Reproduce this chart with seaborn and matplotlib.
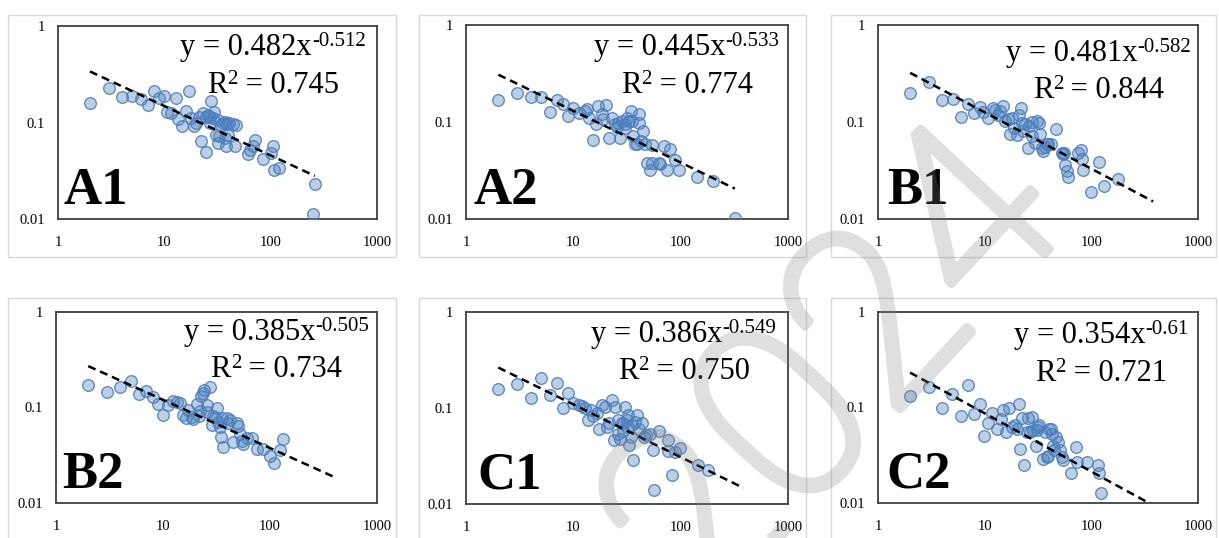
import numpy as np
import pandas as pd
import matplotlib
matplotlib.use("Agg")
import matplotlib.pyplot as plt
import matplotlib.patheffects as pe
import seaborn as sns
from matplotlib.patches import Rectangle
from matplotlib.transforms import IdentityTransform

# ---------------- data ----------------
panel_names = ["A1", "A2", "B1", "B2", "C1", "C2"]

a1_x = [2, 3, 4, 5, 6, 7, 8, 9, 10, 12.9, 16.9, 10.5, 11.6, 14.6, 16, 17.9, 18.9, 21.4, 21.9, 24.5,
        23, 24.7, 26.6, 27.5, 28.6, 29.6, 30.7, 31.8, 33, 34.2, 35.5, 36.8, 38.1, 39, 41, 44.1, 45.7,
        47.4, 37, 40, 61, 64, 68, 70.5, 84.5, 101, 106, 107, 119, 250, 259, 13.5, 20, 26, 32, 27]
a1_y = [0.161, 0.23, 0.183, 0.186, 0.176, 0.153, 0.213, 0.179, 0.19, 0.179, 0.214, 0.129, 0.125, 0.092,
        0.132, 0.111, 0.092, 0.115, 0.064, 0.050, 0.125, 0.115, 0.113, 0.169, 0.111, 0.130, 0.075, 0.061,
        0.072, 0.095, 0.098, 0.102, 0.057, 0.097, 0.100, 0.097, 0.057, 0.094, 0.069, 0.075, 0.047, 0.052,
        0.057, 0.066, 0.042, 0.048, 0.057, 0.032, 0.034, 0.0113, 0.023, 0.11, 0.10, 0.12, 0.105, 0.10]

a2_x = [2, 3, 4, 5, 6, 7, 8, 9, 10, 11.2, 12.9, 13.3, 14, 15.2, 16.2, 16.9, 18.4, 20.1, 19.1, 21.6,
        22.8, 24.2, 25.4, 27.3, 26.3, 28.3, 30, 31.5, 33.1, 34.1, 36.3, 37.6, 40.5, 41.3, 42.8, 44.1,
        46.7, 53.9, 48.4, 51.3, 53.9, 62.2, 64.4, 69.2, 74.3, 79.8, 87.7, 97.5, 143, 198, 318, 30.4,
        35.1, 39]
a2_y = [0.169, 0.198, 0.183, 0.183, 0.128, 0.168, 0.152, 0.114, 0.138, 0.125, 0.129, 0.135, 0.111,
        0.065, 0.096, 0.146, 0.120, 0.149, 0.107, 0.069, 0.109, 0.095, 0.089, 0.069, 0.098, 0.102,
        0.095, 0.109, 0.102, 0.130, 0.072, 0.059, 0.120, 0.098, 0.064, 0.081, 0.059, 0.058, 0.038,
        0.032, 0.038, 0.038, 0.0365, 0.057, 0.032, 0.053, 0.041, 0.032, 0.027, 0.0245, 0.0102, 0.087,
        0.102, 0.059]

b1_x = [2, 3, 4, 5, 6, 7, 8, 9, 9.7, 10.8, 11.9, 12.5, 13.3, 15, 15.5, 16.7, 17.4, 19, 20, 21, 21.9,
        22.5, 23.9, 23, 25.7, 27.6, 29.6, 30.7, 32.3, 33, 34.2, 35.5, 39.5, 41.8, 46.2, 52.6, 54.6,
        56.5, 59, 60.8, 75.4, 79.3, 81, 83.9, 98.3, 118.5, 132, 178, 14, 18, 26, 28, 37, 38, 55]
b1_y = [0.198, 0.259, 0.169, 0.172, 0.112, 0.155, 0.123, 0.143, 0.128, 0.111, 0.141, 0.133, 0.117,
        0.146, 0.102, 0.107, 0.076, 0.087, 0.073, 0.117, 0.141, 0.098, 0.095, 0.081, 0.054, 0.072,
        0.061, 0.102, 0.097, 0.075, 0.054, 0.050, 0.059, 0.059, 0.085, 0.048, 0.047, 0.036, 0.031,
        0.027, 0.048, 0.052, 0.042, 0.032, 0.019, 0.039, 0.022, 0.026, 0.13, 0.11, 0.09, 0.10, 0.055,
        0.06, 0.048]

b2_x = [2, 3, 4, 5, 6, 7, 8, 9, 10, 11.2, 12.5, 13.4, 14.4, 15.3, 16.3, 17.3, 18.5, 19.2, 20.6, 21.9,
        22.7, 23.5, 24.2, 25.6, 26, 27.5, 28.5, 29.5, 30.6, 31.7, 32.9, 34.6, 35.3, 36.6, 39.3, 42.2,
        45.4, 50.5, 52.4, 54.3, 56.3, 60.4, 67.3, 74.9, 86.4, 101, 109, 124, 133, 22.2, 34.1, 40.8,
        48.8]
b2_y = [0.170, 0.144, 0.165, 0.190, 0.138, 0.150, 0.129, 0.110, 0.083, 0.106, 0.117, 0.115, 0.112,
        0.083, 0.0785, 0.094, 0.080, 0.075, 0.108, 0.081, 0.131, 0.142, 0.152, 0.106, 0.090, 0.162,
        0.065, 0.081, 0.080, 0.098, 0.071, 0.049, 0.077, 0.0387, 0.077, 0.074, 0.044, 0.064, 0.0525,
        0.045, 0.041, 0.048, 0.048, 0.037, 0.037, 0.031, 0.026, 0.036, 0.047, 0.092, 0.063, 0.068,
        0.068]

c1_x = [2, 3, 4, 5, 6, 7, 8, 9, 10, 11.2, 12, 12.9, 13.8, 14.6, 15.4, 16.5, 17.5, 18.4, 19.8, 20.5,
        21.6, 22.8, 23.7, 24.6, 26.3, 27.3, 28.3, 29.3, 30.4, 31.5, 32.6, 33.1, 34.6, 36.3, 37.6, 39,
        40.5, 43.5, 47.4, 52, 55.8, 62.2, 57, 76, 77, 83, 87.7, 99, 145, 179, 26.3, 29.3, 32, 35, 45.8]
c1_y = [0.158, 0.178, 0.128, 0.204, 0.137, 0.181, 0.099, 0.142, 0.114, 0.107, 0.105, 0.099, 0.075,
        0.095, 0.083, 0.088, 0.061, 0.107, 0.103, 0.064, 0.069, 0.121, 0.046, 0.102, 0.075, 0.048,
        0.069, 0.069, 0.103, 0.075, 0.064, 0.041, 0.050, 0.029, 0.072, 0.085, 0.061, 0.069, 0.052,
        0.054, 0.0365, 0.057, 0.014, 0.046, 0.036, 0.020, 0.035, 0.038, 0.0255, 0.0226, 0.054, 0.057,
        0.085, 0.0665, 0.050]

c2_x = [2, 3, 4, 4.92, 6, 7, 8, 9, 9.95, 10.8, 11.8, 13, 14.2, 14.7, 15.7, 16.9, 17.9, 19.3, 21, 21.4,
        22.2, 23.6, 24.8, 25.7, 26.6, 27.6, 28.6, 30.1, 31.4, 32.3, 35.5, 36.7, 38.1, 40.1, 41.8, 43,
        44, 46.2, 48.3, 50.8, 52.6, 54.6, 64.4, 71.2, 72.7, 90.2, 116, 117.6, 122, 20, 30.8, 45.1, 39.6]
c2_y = [0.1325, 0.165, 0.100, 0.140, 0.081, 0.170, 0.0865, 0.108, 0.050, 0.069, 0.088, 0.060, 0.075,
        0.094, 0.0556, 0.098, 0.063, 0.065, 0.108, 0.037, 0.077, 0.025, 0.056, 0.077, 0.056, 0.080,
        0.058, 0.040, 0.063, 0.065, 0.029, 0.056, 0.030, 0.060, 0.060, 0.053, 0.040, 0.049, 0.044,
        0.036, 0.030, 0.0285, 0.0206, 0.039, 0.027, 0.027, 0.025, 0.0206, 0.0127, 0.060, 0.058,
        0.036, 0.031]

fit_coef = [0.482, 0.445, 0.481, 0.385, 0.386, 0.354]
fit_expo = [-0.512, -0.533, -0.582, -0.505, -0.549, -0.61]
coef_text = ["0.482", "0.445", "0.481", "0.385", "0.386", "0.354"]
expo_text = ["-0.512", "-0.533", "-0.582", "-0.505", "-0.549", "-0.61"]
r2_text = ["0.745", "0.774", "0.844", "0.734", "0.750", "0.721"]
trend_start = [2, 2, 2, 2, 2, 2]
trend_end = [260, 320, 380, 400, 385, 420]

x_ticks = [1, 10, 100, 1000]
x_tick_labels = ["1", "10", "100", "1000"]
y_ticks = [0.01, 0.1, 1]
y_tick_labels = ["0.01", "0.1", "1"]
watermark_text = "2024"

xs_all = [a1_x, a2_x, b1_x, b2_x, c1_x, c2_x]
ys_all = [a1_y, a2_y, b1_y, b2_y, c1_y, c2_y]

# ---------------- layout ----------------
W, H = 1219, 538
SERIF = "Liberation Serif"
sns.set_theme(style="white")
plt.rcParams["font.family"] = [SERIF, "DejaVu Serif"]
plt.rcParams["text.color"] = "black"
plt.rcParams["xtick.color"] = "black"
plt.rcParams["ytick.color"] = "black"

fig = plt.figure(figsize=(W / 100, H / 100), dpi=100)
fig.patch.set_facecolor("white")

# axes boxes in pixels: left, top, right, bottom
boxes = [(58, 26, 377, 219), (466, 25, 788, 219), (878, 25, 1198, 219),
         (56, 312, 377, 503), (466, 312, 788, 504), (878, 312, 1198, 503)]
outer = [(8, 15, 396, 257), (419, 15, 806, 257), (831, 15, 1216, 257),
         (8, 298, 396, 560), (419, 298, 806, 560), (831, 298, 1216, 560)]
eq_cx = [0.674, 0.686, 0.689, 0.686, 0.677, 0.697]
eq_y = [0.85, 0.845, 0.816, 0.853, 0.845, 0.836]
r2_y = [0.653, 0.65, 0.622, 0.658, 0.65, 0.64]
lab_x = [0.016, 0.022, 0.028, 0.019, 0.034, 0.025]
lab_y = [0.078, 0.078, 0.077, 0.079, 0.083, 0.08]

for (l, t, r, b) in outer:
    fig.patches.append(Rectangle((l / W, 1 - b / H), (r - l) / W, (b - t) / H,
                                 transform=fig.transFigure, fill=False,
                                 edgecolor="#d9d9d9", linewidth=1.0, zorder=0))

FS_MAIN = 22
FS_SUP = 15
SUP_RAISE = 9  # px
rich = []

for i, name in enumerate(panel_names):
    l, t, r, b = boxes[i]
    ax = fig.add_axes([l / W, 1 - b / H, (r - l) / W, (b - t) / H])
    ax.set_facecolor("white")
    ax.set_xscale("log")
    ax.set_yscale("log")

    df = pd.DataFrame({"x": xs_all[i], "y": ys_all[i]})
    sns.scatterplot(data=df, x="x", y="y", ax=ax, s=70, color="#4f81bd",
                    linewidth=1.0, legend=False, zorder=3)
    coll = ax.collections[-1]
    coll.set_facecolor((0.31, 0.506, 0.741, 0.38))
    coll.set_edgecolor((0.29, 0.49, 0.74, 0.85))

    tx = np.geomspace(trend_start[i], trend_end[i], 80)
    tdf = pd.DataFrame({"x": tx, "y": fit_coef[i] * tx ** fit_expo[i]})
    sns.lineplot(data=tdf, x="x", y="y", ax=ax, color="black", linewidth=1.8,
                 linestyle=(0, (3.2, 2.0)), estimator=None, sort=False, zorder=4)

    ax.set_xlim(1, 1000)
    ax.set_ylim(0.01, 1)
    ax.set_xticks(x_ticks)
    ax.set_xticklabels(x_tick_labels)
    ax.set_yticks(y_ticks)
    ax.set_yticklabels(y_tick_labels)
    ax.minorticks_off()
    ax.tick_params(axis="x", length=0, pad=12, labelsize=10.5, colors="black")
    ax.tick_params(axis="y", length=0, pad=9.5, labelsize=10.5, colors="black")
    for lab in ax.get_xticklabels() + ax.get_yticklabels():
        lab.set_fontfamily(SERIF)
    ax.set_xlabel("")
    ax.set_ylabel("")
    for sp in ax.spines.values():
        sp.set_visible(True)
        sp.set_color("#404040")
        sp.set_linewidth(1.3)
    ax.grid(False)

    ax.text(lab_x[i], lab_y[i], name, transform=ax.transAxes, fontsize=38,
            fontweight="bold", family=SERIF, color="black",
            ha="left", va="baseline", zorder=5)

    segs1 = [("y = " + coef_text[i] + "x", False), (expo_text[i], True)]
    segs2 = [("R", False), ("2", True), (" = " + r2_text[i], False)]
    for segs, yy in ((segs1, eq_y[i]), (segs2, r2_y[i])):
        arts = []
        for s, sup in segs:
            tt = ax.text(0, 0, s, transform=ax.transAxes, color="black",
                         fontsize=FS_SUP if sup else FS_MAIN, family=SERIF,
                         ha="left", va="baseline", zorder=5)
            arts.append((tt, sup))
        rich.append((ax, eq_cx[i], yy, arts))

# watermark: thin glyphs thickened by a single semi-transparent stroke
wm_color = (0.5, 0.5, 0.5, 0.25)
wm = fig.text(838 / W, 1 - 376 / H, watermark_text, fontsize=178,
              color=(0.5, 0.5, 0.5, 0.0), family=["Roboto", "DejaVu Sans"],
              fontweight="light", rotation=47, ha="center", va="center",
              rotation_mode="anchor", zorder=10)
wm.set_path_effects([pe.Stroke(linewidth=6.5, foreground=wm_color)])

fig.canvas.draw()
renderer = fig.canvas.get_renderer()
for ax, cx, yy, arts in rich:
    widths = [a.get_window_extent(renderer).width for a, _ in arts]
    total = sum(widths)
    x0, y0 = ax.transAxes.transform((cx, yy))
    cur = x0 - total / 2
    for (a, sup), w in zip(arts, widths):
        a.set_transform(IdentityTransform())
        a.set_position((cur, y0 + (SUP_RAISE if sup else 0)))
        cur += w

fig.savefig("out.png", dpi=100, facecolor="white")
